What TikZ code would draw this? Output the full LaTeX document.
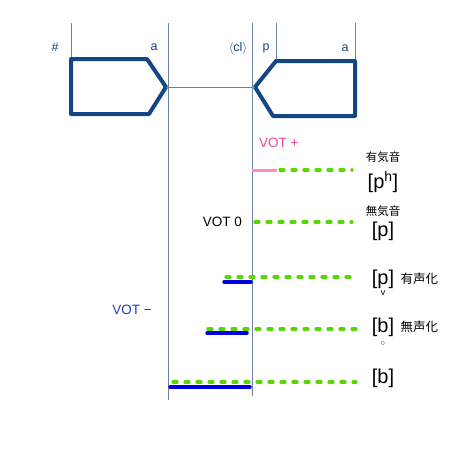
\documentclass[tikz,border=0pt]{standalone}
\usepackage{fontspec}
\setmainfont{Liberation Sans}
\newfontfamily\jpfont{Noto Sans CJK JP}
\usetikzlibrary{positioning}
\definecolor{frameblue}{RGB}{20,70,130}
\definecolor{guide}{RGB}{105,130,165}
\definecolor{lineblue}{RGB}{0,0,225}
\definecolor{votblue}{RGB}{30,60,190}
\definecolor{votpink}{RGB}{235,70,160}
\definecolor{aspink}{RGB}{255,140,190}
\definecolor{dotgreen}{RGB}{85,215,0}

\begin{document}
\begin{tikzpicture}[
    x=1pt, y=-1pt,
    seg/.style={draw=guide, line width=0.8pt},
    gesture/.style={draw=frameblue, line width=4pt, line join=round},
    greenline/.style={draw=dotgreen, line width=3.3pt, line cap=round,
      dash pattern=on 4pt off 8pt},
    voicebar/.style={draw=lineblue, line width=3.5pt, line cap=round},
    lab/.style={font=\fontsize{12.5}{14}\selectfont, inner sep=0pt},
    votlab/.style={font=\fontsize{13.5}{15}\selectfont, inner sep=0pt},
    ipa/.style={font=\fontsize{20}{22}\selectfont, inner sep=0pt},
    jp/.style={font=\jpfont\fontsize{11.5}{13}\selectfont, inner sep=0pt}
  ]
    \useasboundingbox (0,0) rectangle (450,450);
    % guide lines
    \draw[seg] (71,23) -- (71,59);
    \draw[seg] (168,23) -- (168,400);
    \draw[seg] (252,23) -- (252,396);
    \draw[seg] (276,23) -- (276,61);
    \draw[seg] (355,23) -- (355,61);
    % gestures
    \coordinate (ltip) at (166,87);
    \coordinate (rtip) at (255,87);
    \draw[gesture] (71,59) -- (147,59) -- (ltip) -- (149,114) -- (71,114) -- cycle;
    \draw[gesture] (276,61) -- (355,61) -- (355,116) -- (273,116) -- (rtip) -- cycle;
    \draw[seg] (ltip) -- (rtip);
    % tier labels
    \node[lab, frameblue] (hash) at (55,47) {\#};
    \node[lab, frameblue] (avow1) at (154,47) {a};
    \node[lab, frameblue] (clos) at (238,48) {$\langle$cl$\rangle$};
    \node[lab, frameblue] (pcons) at (266,48) {p};
    \node[lab, frameblue] (avow2) at (345,48) {a};
    % VOT labels
    \node[votlab, votpink, anchor=west] (votplus) at (259,143) {VOT +};
    \node[votlab, anchor=east] (votzero) at (242,222) {VOT 0};
    \node[votlab, votblue] (votminus) at (132,310) {VOT −};
    % aspiration
    \draw[draw=aspink, line width=3pt] (252,170) -- (277,170);
    \draw[greenline] (280,170) -- (352,170);
    \draw[greenline] (255,222) -- (352,222);
    \draw[greenline] (226,277) -- (352,277);
    \draw[greenline] (208,329) -- (356,329);
    \draw[greenline] (173,382) -- (356,382);
    % voicing
    \draw[voicebar] (224,282) -- (251,282);
    \draw[voicebar] (207,333) -- (247,333);
    \draw[voicebar] (170,387) -- (250,387);
    % transcriptions
    \node[jp] (asp) at (383,157) {有気音};
    \node[ipa] (aspp) at (383,182) {[p\textsuperscript{h}]};
    \node[jp] (unasp) at (383,211) {無気音};
    \node[ipa] (plainp) at (383,231) {[p]};
    \node[ipa] (voicedp) at (383,279) {[p]};
    \node[lab, font=\fontsize{9}{10}\selectfont] (caron) at (383,293) {v};
    \node[jp, font=\jpfont\fontsize{12.5}{14}\selectfont, right=6pt of voicedp] (voicing) {有声化};
    \node[ipa] (devb) at (383,327) {[b]};
    \node[lab, font=\fontsize{8}{9}\selectfont] (ring) at (383,344) {$\circ$};
    \node[jp, font=\jpfont\fontsize{12.5}{14}\selectfont, right=6pt of devb] (devoicing) {無声化};
    \node[ipa] (plainb) at (383,378) {[b]};
\end{tikzpicture}
\end{document}
